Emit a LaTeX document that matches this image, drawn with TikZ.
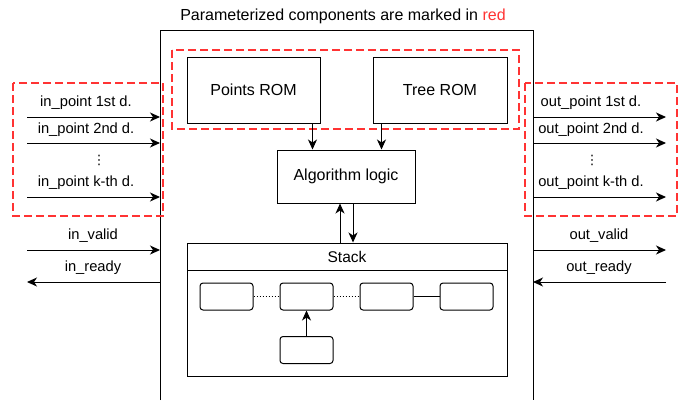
\documentclass[tikz,border=0pt]{standalone}
\usepackage{fontspec}
\setmainfont{Liberation Sans}
\newfontfamily\symfont{DejaVu Sans}
\usetikzlibrary{arrows.meta}
\definecolor{paramred}{HTML}{FF3333}
\tikzset{
  box/.style={draw=black, line width=1pt, fill=white, inner sep=0pt, font=\fontsize{16}{18}\selectfont},
  cell/.style={draw=black, line width=1pt, rounded corners=3pt, minimum width=53pt, minimum height=27pt, inner sep=0pt},
  arr/.style={line width=1pt, -{Stealth[length=10pt,width=9pt,inset=3pt]}},
  lbl/.style={font=\fontsize{14.7}{16}\selectfont, inner sep=0pt},
  dots/.style={font=\symfont\fontsize{13}{13}\selectfont, inner sep=0pt},
  param/.style={draw=paramred, line width=2pt, dash pattern=on 8pt off 4pt},
}
\begin{document}
\begin{tikzpicture}[x=1pt,y=-1pt]
\useasboundingbox (0,0) rectangle (682,400);

% title
\node[font=\fontsize{16}{18}\selectfont, inner sep=0pt] (title) at (343,16) {Parameterized components are marked in \textcolor{paramred}{red}};

% outer module (open at the bottom)
\coordinate (mtl) at (160,30);
\coordinate (mtr) at (533,30);
\draw[line width=1pt] (160,400) -- (mtl) -- (mtr) -- (533,400);

% ROMs and logic
\node[box, minimum width=133pt, minimum height=66pt] (pts) at (253.5,90) {Points ROM};
\node[box, minimum width=134pt, minimum height=66pt] (tree) at (440,90) {Tree ROM};
\node[box, minimum width=138pt, minimum height=53pt] (alg) at (346,176.5) {Algorithm logic};

% parameterized groups
\draw[param] (172,50) rectangle (519,129);
\draw[param] (13,83) rectangle (163,216);
\draw[param] (525,83) rectangle (677,216);

% stack
\node[box, minimum width=320pt, minimum height=133pt] (stack) at (347,309.5) {};
\draw[line width=1pt] (187,270) -- (507,270);
\node[font=\fontsize{15.5}{18}\selectfont, inner sep=0pt] (stacklbl) at (347,257) {Stack};

\node[cell] (c1) at (226.5,296.5) {};
\node[cell] (c2) at (306.5,296.5) {};
\node[cell] (c3) at (386.5,296.5) {};
\node[cell] (c4) at (466.5,296.5) {};
\node[cell] (c5) at (306.5,350) {};
\draw[line width=1pt, dotted] (c1) -- (c2);
\draw[line width=1pt, dotted] (c2) -- (c3);
\draw[line width=1pt] (c3) -- (c4);
\draw[arr] (c5) -- (c2);

% internal connections
\draw[arr] ([xshift=-8pt]pts.south east) -- ([xshift=-8pt]pts.south east |- alg.north);
\draw[arr] ([xshift=9pt]tree.south west) -- ([xshift=9pt]tree.south west |- alg.north);
\draw[arr] ([xshift=-6pt]alg.south |- stack.north) -- ([xshift=-6pt]alg.south);
\draw[arr] ([xshift=7pt]alg.south) -- ([xshift=7pt]alg.south |- stack.north);

% inputs
\foreach \n/\y in {i1/117, i2/143, ik/197, iv/250, ir/282} {
  \coordinate (\n a) at (27,\y);
  \coordinate (\n b) at (160,\y);
}
\draw[arr] (i1a) -- (i1b);
\draw[arr] (i2a) -- (i2b);
\draw[arr] (ika) -- (ikb);
\draw[arr] (iva) -- (ivb);
\draw[arr] (irb) -- (ira);
\node[lbl] (l1) at (86,103) {in\_point 1st d.};
\node[lbl] (l2) at (86,130) {in\_point 2nd d.};
\node[dots] (ld) at (99,160) {⋮};
\node[lbl] (lk) at (86,183) {in\_point k-th d.};
\node[lbl] (lv) at (93,236) {in\_valid};
\node[lbl] (lr) at (93,268) {in\_ready};

% outputs
\foreach \n/\y in {o1/117, o2/143, ok/197, ov/250, or/282} {
  \coordinate (\n a) at (533,\y);
  \coordinate (\n b) at (666,\y);
}
\draw[arr] (o1a) -- (o1b);
\draw[arr] (o2a) -- (o2b);
\draw[arr] (oka) -- (okb);
\draw[arr] (ova) -- (ovb);
\draw[arr] (orb) -- (ora);
\node[lbl] (r1) at (591,103) {out\_point 1st d.};
\node[lbl] (r2) at (591,130) {out\_point 2nd d.};
\node[dots] (rd) at (592,160) {⋮};
\node[lbl] (rk) at (591,183) {out\_point k-th d.};
\node[lbl] (rv) at (599,236) {out\_valid};
\node[lbl] (rr) at (599,268) {out\_ready};
\end{tikzpicture}
\end{document}
